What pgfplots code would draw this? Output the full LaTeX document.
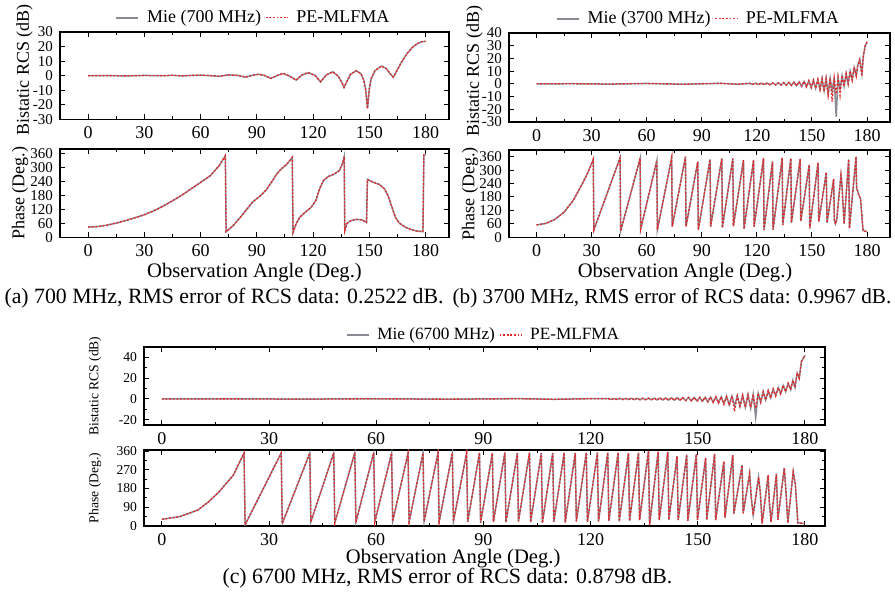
\documentclass[border=0pt]{standalone}
\usepackage{fontspec}
\setmainfont{Liberation Serif}
\usepackage{pgfplots}
\pgfplotsset{compat=1.18}
\usepackage{pgfplotstable}

\definecolor{miegray}{RGB}{138,138,148}
\definecolor{pered}{RGB}{235,35,35}

% ---- (a) 700 MHz ----
\pgfplotstableread{
x y
0 0
10 0.1
20 -0.1
30 0.2
40 0
45 0.3
50 -0.1
55 0.2
60 0.4
65 0.1
70 -0.4
75 0.6
80 0.2
84 -1.0
88 0.4
91 1.0
94 0.2
97.5 -1.8
101 0.2
104 1.6
107.5 -0.3
111 -3.0
114 0.5
117.5 2.1
121 0.3
124 -4.2
127 0.5
130.5 2.7
133.5 -0.5
135.5 -5
136.5 -8
138 -4
140 1
143 3.4
145.5 1.5
147 -3
148 -9
149 -22.5
150 -9
151 -2
153 3.5
156.5 6.6
159 5
161 1.5
162.8 -1
164.5 3
167 9
170 15
173 19.5
176 22.3
178 23.3
180 23.6
}\rcsA

\pgfplotstableread{
x y
0 45
5 47
10 53
15 62
20 73
25 85
30 98
35 115
40 135
45 158
50 182
55 210
60 237
65 265
70 310
73.2 352
73.6 25
77 48
81 85
85 125
88 155
92 180
95 205
98 240
100.5 272
103 295
106 315
108.9 345
109.3 22
111 60
113 88
116 110
119 130
121.5 160
123.5 210
125.5 245
128 262
131 272
134 288
135.8 320
136.6 348
136.9 30
138 60
140 72
143 78
146 76
148.5 65
149 250
152 238
155.5 228
158 210
160 180
162 132
164 85
166 62
169 45
172 35
175 28
178.6 25
179.1 355
180 355
}\phaseA

% ---- (b) 3700 MHz ----
\pgfplotstableread{
x y
0 0
20 0.1
40 -0.2
60 0.3
80 -0.3
100 0.4
110 -0.3
116 0.4
117.6 -0.4
119.2 0.5
120.8 -0.5
122.4 0.5
124 -0.6
125.6 0.6
127.2 -0.7
128.7 0.7
130.2 -0.8
131.7 0.8
133.2 -0.9
134.6 1.0
136 -1.0
137.4 1.1
138.8 -1.2
140.2 1.3
141.6 -1.5
143 1.6
144.4 -1.8
145.7 1.9
147 -2.3
148.3 2.4
149.6 -3.0
150.8 2.8
152 -3.5
153.2 3.4
154.4 -4.5
155.5 4.0
156.6 -5.5
157.7 4.2
158.8 -8
159.9 4.5
161 -6
162.1 4.8
163.2 -26
164.2 5
165.3 -4
166.4 6.5
167.5 -2
168.6 8
169.7 0
170.8 10
171.9 3
173 13
174.1 7
175 15
176 19
177.2 8
178 22
179 30
180 33
}\rcsBmie

\pgfplotstableread{
x y
0 0
20 0.1
40 -0.2
60 0.3
80 -0.3
100 0.4
110 -0.3
116 0.4
117.6 -0.4
119.2 0.5
120.8 -0.5
122.4 0.5
124 -0.6
125.6 0.6
127.2 -0.7
128.7 0.7
130.2 -0.8
131.7 0.8
133.2 -0.9
134.6 1.0
136 -1.0
137.4 1.1
138.8 -1.2
140.2 1.3
141.6 -1.5
143 1.6
144.4 -1.8
145.7 1.9
147 -2.3
148.3 2.4
149.6 -3.0
150.8 2.8
152 -3.5
153.2 3.4
154.4 -4.5
155.5 4.0
156.6 -6
157.7 4.2
158.8 -9
159.9 4.5
161 -14
162.1 4.8
163.2 -8
164.2 5
165.3 -9
166.4 6.5
167.5 -2
168.6 8
169.7 0
170.8 10
171.9 3
173 13
174.1 6
175 15
176 19
177.2 6
178 22
179 30
180 33
}\rcsBpe

\pgfplotstableread{
x y
0 55
5 62
10 80
15 112
20 165
25 240
28 290
30.9 348
31.2 33
45.5 355
45.8 28
56.4 352
56.7 36
65.5 342
65.8 33
73.6 355
73.9 48
81.1 360
81.4 48
87.8 338
88.1 33
94.5 348
94.8 48
100.9 352
101.2 43
106.9 352
107.2 50
112.7 345
113 38
118.2 345
118.5 48
123.6 352
123.9 33
128.5 338
128.8 33
133.8 355
134.1 55
138.5 352
138.8 65
143.6 350
143.9 72
148.5 323
148.8 40
153.3 333
153.7 70
157.8 290
158.2 65
161.8 260
162.2 75
162.8 60
163.5 80
165.8 278
166.3 240
167.5 60
170 348
170.4 40
174 360
174.3 220
175.5 190
176.5 170
177.8 30
180 25
}\phaseB

% ---- (c) 6700 MHz ----
\pgfplotstableread{
x y
0 0
20 0.1
40 -0.1
60 0.2
80 -0.2
100 0.3
110 -0.3
120 0.3
125 0.3
125.8 -0.4
126.6 0.4
127.4 -0.4
128.2 0.5
129 -0.5
129.8 0.5
130.6 -0.5
131.4 0.6
132.2 -0.6
133 0.6
133.8 -0.7
134.6 0.7
135.4 -0.7
136.2 0.8
137 -0.8
137.8 0.8
138.6 -0.9
139.4 0.9
140.2 -1.0
141 1.0
141.8 -1.1
142.6 1.1
143.4 -1.2
144.2 1.2
145 -1.3
145.8 1.3
146.6 -1.5
147.4 1.4
148.2 -1.7
149 1.5
149.8 -2.0
150.55 1.5
151.3 -2.3
152.05 1.6
152.8 -2.7
153.55 1.8
154.3 -3.2
155.05 2.0
155.8 -3.8
156.55 2.2
157.3 -4.5
158.05 2.5
158.8 -5.5
159.55 2.8
160.3 -6.5
161.05 3.0
161.8 -7
162.55 3.5
163.3 -8
164.05 4
164.8 -9
165.5 4.5
166.2 -18
166.9 5.5
167.6 -3
168.3 7
169 -1
169.7 8
170.4 1
171.1 9.5
171.8 3
172.5 11
173.2 5
173.9 13
174.6 7
175.3 15
176 9
176.6 18
177.2 11
177.8 25
178.4 20
179 36
180 42
}\rcsCmie

\pgfplotstableread{
x y
0 0
20 0.1
40 -0.1
60 0.2
80 -0.2
100 0.3
110 -0.3
120 0.3
125 0.3
125.8 -0.4
126.6 0.4
127.4 -0.4
128.2 0.5
129 -0.5
129.8 0.5
130.6 -0.5
131.4 0.6
132.2 -0.6
133 0.6
133.8 -0.7
134.6 0.7
135.4 -0.7
136.2 0.8
137 -0.8
137.8 0.8
138.6 -0.9
139.4 0.9
140.2 -1.0
141 1.0
141.8 -1.1
142.6 1.1
143.4 -1.2
144.2 1.2
145 -1.3
145.8 1.3
146.6 -1.5
147.4 1.4
148.2 -1.7
149 1.5
149.8 -2.0
150.55 1.5
151.3 -2.3
152.05 1.6
152.8 -2.7
153.55 1.8
154.3 -3.2
155.05 2.0
155.8 -3.8
156.55 2.2
157.3 -5
158.05 2.5
158.8 -6
159.55 2.8
160.3 -12
161.05 3.0
161.8 -7
162.55 3.5
163.3 -8
164.05 4
164.8 -8
165.5 4.5
166.2 -9
166.9 5.5
167.6 -3
168.3 7
169 -1
169.7 8
170.4 1
171.1 9.5
171.8 3
172.5 11
173.2 5
173.9 13
174.6 7
175.3 15
176 9
176.6 18
177.2 11
177.8 25
178.4 20
179 36
180 42
}\rcsCpe

\pgfplotstableread{
x y
0 32
5 45
10 76
13 115
16 164
20 244
23 350
23.3 6
33.4 350
33.7 12
41.4 350
41.7 20
48.1 350
48.4 15
54 352
54.3 18
59.3 352
59.6 20
64.3 350
64.6 22
68.9 350
69.2 20
73.1 350
73.4 22
77.3 352
77.6 20
81.3 350
81.6 22
85.3 350
85.6 20
88.9 352
89.2 15
92.5 350
92.8 20
96 352
96.3 18
99.5 350
99.8 22
102.9 352
103.2 18
106.2 350
106.5 15
109.4 350
109.7 20
112.6 352
112.9 18
115.7 350
116 22
118.8 352
119.1 20
121.9 352
122.2 22
124.8 352
125.1 25
127.7 352
128 22
130.6 350
130.9 25
133.4 352
133.7 28
136.2 360
136.5 5
138.9 357
139.2 28
141.6 355
141.9 30
144.2 335
144.5 28
146.9 343
147.2 25
149.6 345
149.9 28
152.2 327
152.5 30
154.7 345
155 28
157.3 310
157.6 40
159.8 340
160.1 60
162.4 292
162.7 61
164.5 252
165 130
165.5 53
167 235
167.5 160
168 12
169.7 244
170 120
170.5 20
172 250
172.4 30
174.2 278
174.7 160
175.2 15
176.7 260
177.3 200
178 15
180 12
}\phaseC

\pgfplotsset{
  rcsfig/.style={
    scale only axis,
    anchor=south west,
    axis line style={line width=0.7pt},
    tick align=inside,
    major tick length=2.5pt,
    minor tick length=1.5pt,
    tick style={line width=0.5pt, black},
    xtick={0,30,...,180},
    minor x tick num=1,
    /pgf/number format/assume math mode=true,
    xticklabel style={font=\fontsize{9}{10}\selectfont},
    yticklabel style={font=\fontsize{7.5}{8}\selectfont},
    ylabel style={font=\fontsize{9}{10}\selectfont, anchor=center},
    xlabel style={font=\fontsize{10.3}{12}\selectfont, at={(axis description cs:0.5,0)}, anchor=center, yshift=-17.75pt},
    legend style={draw=none, fill=none, at={(0.5,1)}, anchor=south, yshift=1pt,
      legend columns=2, inner sep=0pt, font=\fontsize{9}{10}\selectfont,
      /tikz/every odd column/.append style={column sep=2pt}},
    legend image code/.code={\draw[#1] (0pt,0pt) -- (11pt,0pt);},
  },
  mie/.style={miegray, line width=0.75pt},
  pe/.style={pered, line width=0.65pt, dash pattern=on 0.9pt off 0.9pt},
}

\begin{document}
\begin{tikzpicture}
\useasboundingbox (0,0) rectangle (447.5pt,298.5pt);

% (a) RCS
\begin{axis}[rcsfig, at={(30pt,238.75pt)}, width=194.5pt, height=43.75pt,
  xmin=-15, xmax=192.5, ymin=-30, ymax=30, ytick={-30,-20,...,30},
  ylabel={Bistatic RCS (dB)}, ylabel style={at={([xshift=-17.75pt,yshift=3pt]axis description cs:0,0.5)}}]
\addplot[mie] table {\rcsA};
\addplot[pe] table {\rcsA};
\legend{Mie (700 MHz), PE-MLFMA}
\end{axis}

% (a) phase
\begin{axis}[rcsfig, at={(30pt,179.75pt)}, width=194.5pt, height=44.25pt,
  xmin=-15, xmax=192.5, ymin=0, ymax=381, ytick={0,60,...,360},
  ylabel={Phase (Deg.)}, ylabel style={at={([xshift=-20pt]axis description cs:0,0.5)}},
  xlabel={Observation Angle (Deg.)}]
\addplot[mie] table {\phaseA};
\addplot[pe] table {\phaseA};
\end{axis}

% (b) RCS
\begin{axis}[rcsfig, at={(254.5pt,237.5pt)}, width=190.5pt, height=44.5pt,
  xmin=-15, xmax=192.5, ymin=-30, ymax=40, ytick={-30,-20,...,40},
  ylabel={Bistatic RCS (dB)}, ylabel style={at={([xshift=-17.25pt,yshift=3pt]axis description cs:0,0.5)}}]
\addplot[mie] table {\rcsBmie};
\addplot[pe] table {\rcsBpe};
\legend{Mie (3700 MHz), PE-MLFMA}
\end{axis}

% (b) phase
\begin{axis}[rcsfig, at={(254.5pt,179.85pt)}, width=190.5pt, height=43.65pt,
  xmin=-15, xmax=192.5, ymin=0, ymax=390, ytick={0,60,...,360},
  ylabel={Phase (Deg.)}, ylabel style={at={([xshift=-19.5pt]axis description cs:0,0.5)}},
  xlabel={Observation Angle (Deg.)}, xlabel style={at={(axis description cs:0.462,0)}}]
\addplot[mie] table {\phaseB};
\addplot[pe] table {\phaseB};
\end{axis}

% (c) RCS
\begin{axis}[rcsfig, at={(72pt,86pt)}, width=340.5pt, height=39pt,
  xmin=-5, xmax=185.6, ymin=-25, ymax=50, ytick={-20,0,20,40}, minor y tick num=1,
  yticklabel style={font=\fontsize{6.8}{7}\selectfont},
  ylabel={Bistatic RCS (dB)}, ylabel style={at={([xshift=-24.5pt]axis description cs:0,0.5)}, font=\fontsize{6.8}{7}\selectfont},
  legend style={yshift=-1pt, font=\fontsize{8.6}{10}\selectfont}]
\addplot[mie] table {\rcsCmie};
\addplot[pe] table {\rcsCpe};
\legend{Mie (6700 MHz), PE-MLFMA}
\end{axis}

% (c) phase
\begin{axis}[rcsfig, at={(72pt,35.5pt)}, width=340.5pt, height=38pt,
  xmin=-5, xmax=185.6, ymin=0, ymax=365, ytick={0,90,...,360}, minor y tick num=1,
  yticklabel style={font=\fontsize{6.8}{7}\selectfont},
  ylabel={Phase (Deg.)}, ylabel style={at={([xshift=-24.5pt]axis description cs:0,0.5)}, font=\fontsize{6.8}{7}\selectfont},
  xlabel={Observation Angle (Deg.)}, xlabel style={at={(axis description cs:0.454,0)}, yshift=1.5pt}]
\addplot[mie] table {\phaseC};
\addplot[pe] table {\phaseC};
\end{axis}

\node[font=\fontsize{10.9}{12}\selectfont] at (112pt,149.5pt) {(a) 700 MHz, RMS error of RCS data: 0.2522 dB.};
\node[font=\fontsize{10.6}{12}\selectfont] at (336pt,149.5pt) {(b) 3700 MHz, RMS error of RCS data: 0.9967 dB.};
\node[font=\fontsize{10.9}{12}\selectfont] at (223.75pt,9.5pt) {(c) 6700 MHz, RMS error of RCS data: 0.8798 dB.};
\end{tikzpicture}
\end{document}
